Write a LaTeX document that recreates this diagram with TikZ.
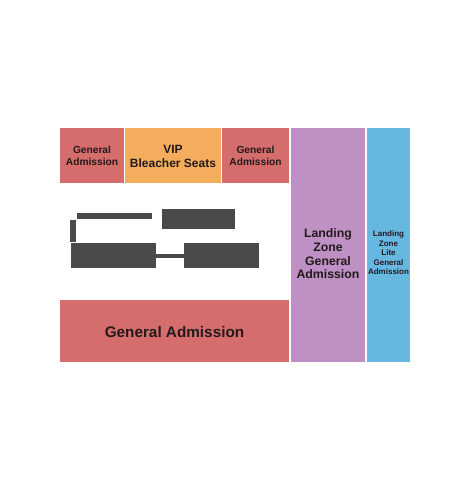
\documentclass[tikz,border=0pt]{standalone}
\usepackage{fontspec}
\setmainfont{Liberation Sans}
\definecolor{garea}{HTML}{D56D6C}
\definecolor{viparea}{HTML}{F4AC5D}
\definecolor{lzarea}{HTML}{BE90C4}
\definecolor{litearea}{HTML}{66B8E1}
\definecolor{stagegray}{HTML}{4A4A4A}
\definecolor{labtext}{HTML}{231A1C}
\begin{document}
\begin{tikzpicture}[x=1pt,y=-1pt,
  lab/.style={text=labtext,font=\bfseries,align=center,inner sep=0pt}]
\useasboundingbox[fill=white] (0,0) rectangle (450,500);
% top row
\foreach \xa/\xb/\col in {60/124/garea,125/221/viparea,222/289/garea}{
  \fill[\col] (\xa,128) rectangle (\xb,183);
}
\node[lab,font=\bfseries\fontsize{10.2}{12.3}\selectfont] (galeft) at (92,156) {General\\Admission};
\node[lab,font=\bfseries\fontsize{12}{14}\selectfont] (vip) at (173,156) {VIP\\Bleacher Seats};
\node[lab,font=\bfseries\fontsize{10.2}{12.3}\selectfont] (garight) at (255.5,156) {General\\Admission};
% landing zones
\fill[lzarea] (291,128) rectangle (365,362);
\node[lab,font=\bfseries\fontsize{12.3}{13.6}\selectfont] (lzone) at (328,254) {Landing\\Zone\\General\\Admission};
\fill[litearea] (367,128) rectangle (410,362);
\node[lab,font=\bfseries\fontsize{8}{9.5}\selectfont] (lzlite) at (388.5,253) {Landing\\Zone\\Lite\\General\\Admission};
% bottom
\fill[garea] (60,300) rectangle (289,362);
\node[lab,font=\bfseries\fontsize{15.3}{18}\selectfont] (gabottom) at (174.5,332) {General Admission};
% stage
\fill[stagegray] (76.7,213.3) rectangle (151.7,219);
\fill[stagegray] (69.7,220) rectangle (76,242);
\fill[stagegray] (162,209.3) rectangle (234.7,229.3);
\fill[stagegray] (71,243.3) rectangle (156,267.7);
\fill[stagegray] (156,253.7) rectangle (183.7,258.3);
\fill[stagegray] (183.7,243.3) rectangle (258.7,267.7);
\end{tikzpicture}
\end{document}
